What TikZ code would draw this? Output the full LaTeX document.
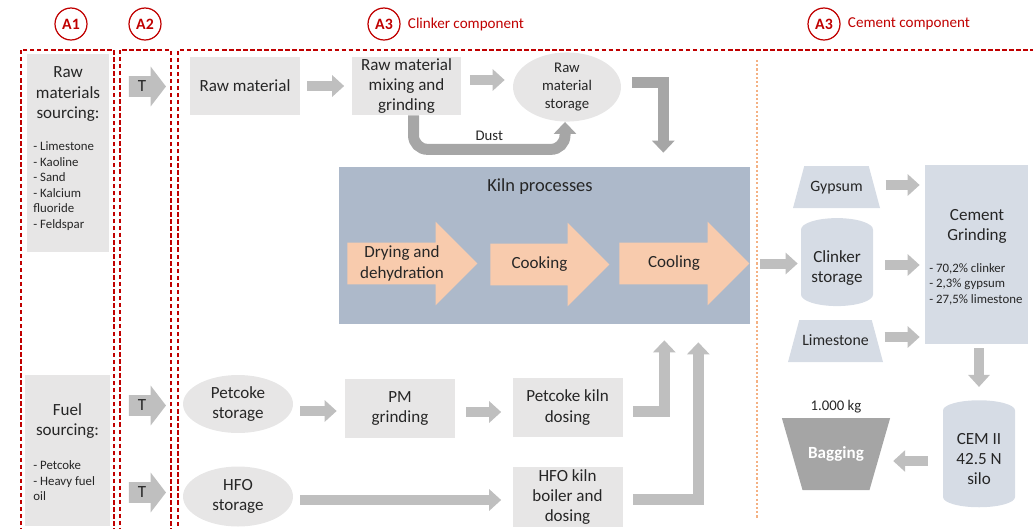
\documentclass[tikz,border=0pt]{standalone}
\usepackage{fontspec}
\setmainfont{Carlito}
\usetikzlibrary{arrows.meta,shapes.geometric,shapes.arrows,positioning,calc}
\definecolor{redA}{HTML}{C00000}
\definecolor{boxgray}{HTML}{E7E6E6}
\definecolor{arrgray}{HTML}{BFBFBF}
\definecolor{arrdark}{HTML}{A6A6A6}
\definecolor{kilnblue}{HTML}{ADB9CA}
\definecolor{peach}{HTML}{F8CBAD}
\definecolor{paleblue}{HTML}{D6DCE5}
\definecolor{baggray}{HTML}{A5A5A5}
\definecolor{dotorange}{HTML}{F4B183}
\newcommand{\fsz}[2]{\fontsize{#1}{#2}\selectfont}
\tikzset{
  every node/.style={text=black!85},
  procbox/.style={rectangle,fill=boxgray,minimum width=2.2cm,minimum height=1.16cm,inner sep=0pt,align=center,font=\fsz{9.7}{11.6}},
  store/.style={ellipse,fill=boxgray,minimum width=2.2cm,minimum height=1.16cm,inner sep=0pt,align=center,font=\fsz{9.7}{11.6}},
  pale/.style={fill=paleblue,inner sep=0pt,align=center,font=\fsz{9.7}{11.6}},
  heap/.style={pale,trapezium,trapezium left angle=75,trapezium right angle=75,inner xsep=0pt,inner ysep=0.28cm,text height=0.22cm,text depth=0.06cm,font=\fsz{9}{11}},
  tank/.style={pale,cylinder,shape border rotate=90,aspect=0.45,minimum width=1.44cm},
  tarrow/.style={single arrow,fill=arrgray,inner xsep=0pt,inner ysep=0.2cm,single arrow head extend=0.19cm,single arrow tip angle=105,minimum height=0.74cm},
  karrow/.style={single arrow,fill=peach,inner xsep=0pt,inner ysep=0.41cm,single arrow head extend=0.42cm,single arrow tip angle=90},
  circ/.style={circle,draw=redA,line width=0.7pt,minimum size=0.64cm,inner sep=0pt,text=redA,font=\fsz{9}{10}\bfseries},
  zone/.style={draw=redA,line width=0.9pt,dash pattern=on 2.5pt off 1.5pt},
  flow/.style={draw=arrgray,line width=0.2cm,-{Triangle[length=0.24cm,width=0.42cm]}},
  elbow/.style={flow,line width=0.22cm,-{Triangle[length=0.24cm,width=0.44cm]}},
  listtxt/.style={align=left,inner sep=0pt,font=\fsz{7.3}{8.8}},
  head/.style={align=center,inner sep=0pt,font=\fsz{9.7}{11.6}},
}
\begin{document}
\begin{tikzpicture}[x=0.02cm,y=-0.02cm]
\useasboundingbox (0,0) rectangle (1033,528);
% zones
\node[circ] (a1) at (71,24) {A1};
\node[circ] (a2) at (145,24) {A2};
\node[circ] (a3c) at (384,24) {A3};
\node[circ] (a3m) at (824,24) {A3};
\node[right=0.14cm of a3c,inner sep=0pt,text=redA,font=\fsz{8.6}{10}] {Clinker component};
\node[right=0.14cm of a3m,inner sep=0pt,text=redA,font=\fsz{8.6}{10}] {Cement component};
\draw[zone] (21,50) rectangle (114,540);
\draw[zone] (120,50) rectangle (171,540);
\draw[zone] (178,540) -- (178,50) -- (1040,50);
\draw[dotorange,line width=1pt,dash pattern=on 1.2pt off 1.2pt] (757,60) -- (757,518);

% sourcing
\node[procbox,minimum width=1.64cm,minimum height=3.96cm] (rawsrc) at (68,153) {};
\node[head] at (68,94) {Raw\\materials\\sourcing:};
\node[listtxt,anchor=west] at (33,186) {- Limestone\\- Kaoline\\- Sand\\- Kalcium\\fluoride\\- Feldspar};
\node[procbox,minimum width=1.7cm,minimum height=3.02cm] (fuelsrc) at (67.5,450.5) {};
\node[head] at (67.5,421) {Fuel\\sourcing:};
\node[listtxt,anchor=west] at (33,481) {- Petcoke\\- Heavy fuel\\oil};

% transport
\node[tarrow,label={[xshift=-0.03cm,head]center:T}] (t1) at (143.5,86.5) {};
\node[tarrow,label={[xshift=-0.03cm,head]center:T}] (t2) at (143.5,405.5) {};
\node[tarrow,label={[xshift=-0.03cm,head]center:T}] (t3) at (143.5,492.5) {};

% clinker line
\node[procbox] (rawmat) at (245,86) {Raw material};
\node[procbox] (mixing) at (406.5,86) {Raw material\\mixing and\\grinding};
\node[store,minimum width=2.16cm,minimum height=1.2cm,font=\fsz{8.4}{10.5}] (rawstore) at (567,87) {Raw\\material\\storage};
\node[rectangle,fill=kilnblue,minimum width=8.22cm,minimum height=3.14cm] (kiln) at (544.5,245.5) {};
\node[font=\fsz{10.5}{12}] at (540,187) {Kiln processes};
\node[karrow,minimum height=2.6cm,label={[head]center:Drying and\\dehydration}] (dry) at (402,263.5) {};
\node[karrow,minimum height=2.38cm,label={[head]center:Cooking}] (cook) at (539.5,264.5) {};
\node[karrow,minimum height=2.6cm,label={[head]center:Cooling}] (cool) at (674,263.5) {};

% fuel line
\node[store] (petstore) at (238,404) {Petcoke\\storage};
\node[store,minimum height=1.2cm] (hfostore) at (238,496.5) {HFO\\storage};
\node[procbox,minimum height=1.18cm] (pm) at (400,408.5) {PM\\grinding};
\node[procbox,minimum height=1.18cm] (petdose) at (567.5,407.5) {Petcoke kiln\\dosing};
\node[procbox,minimum height=1.2cm] (hfodose) at (567.5,497) {HFO kiln\\boiler and\\dosing};

% cement line
\node[heap,text width=1.29cm] (gypsum) at (836.5,187) {Gypsum};
\node[tank,minimum height=1.76cm] (clinker) at (837,268) {Clinker\\storage};
\node[heap,text width=1.45cm] (limestone) at (835.5,341) {Limestone};
\node[pale,rectangle,minimum width=2.06cm,minimum height=3.58cm] (grind) at (976.5,254.5) {};
\node[head] at (977,226.5) {Cement\\Grinding};
\node[listtxt,anchor=west] at (929,284) {- 70,2\% clinker\\- 2,3\% gypsum\\- 27,5\% limestone};
\node[tank,minimum height=2.14cm] (silo) at (979,459) {CEM II\\42.5 N\\silo};
\node[heap,shape border rotate=180,trapezium left angle=74,trapezium right angle=74,text width=1.34cm,inner ysep=0.58cm,fill=baggray,text=white,font=\fsz{9.7}{11.6}\bfseries] (bag) at (836,454) {Bagging};
\node[inner sep=0pt,font=\fsz{8.4}{10}] at (836,407) {1.000 kg};

% connectors
\draw[flow,shorten <=0.14cm,shorten >=0.14cm] (rawmat.east) -- (mixing.west);
\draw[flow,shorten <=0.16cm,shorten >=0.16cm] ([yshift=0.12cm]mixing.east) -- ([yshift=0.12cm]mixing.east -| rawstore.west);
\draw[elbow,draw=arrdark,shorten <=0.22cm] ([yshift=0.09cm]rawstore.east) -| ([shift={(-87,-14)}]kiln.north east);
\draw[elbow,draw=arrdark,rounded corners=0.28cm] ([xshift=0.14cm]mixing.south) -- ++(0,34)
  -| node[pos=0.25,above=0.06cm,inner sep=0pt,font=\fsz{8.4}{10}] {Dust} ([xshift=-0.04cm]rawstore.south);
\draw[flow,shorten <=0.14cm,shorten >=0.16cm] ([yshift=-0.05cm]pm.west -| petstore.east) -- ([yshift=-0.05cm]pm.west);
\draw[flow,shorten <=0.22cm,shorten >=0.22cm] ([yshift=-0.07cm]pm.east) -- ([yshift=-0.07cm]pm.east -| petdose.west);
\draw[flow,shorten <=0.14cm,shorten >=0.22cm] ([yshift=-0.07cm]hfostore.east) -- ([yshift=-0.07cm]hfostore.east -| hfodose.west);
\draw[elbow,shorten <=0.2cm] ([yshift=-0.08cm]petdose.east) -| ([shift={(-86,16)}]kiln.south east);
\draw[elbow,shorten <=0.2cm] ([yshift=-0.04cm]hfodose.east) -| ([shift={(-52,18)}]kiln.south east);
\draw[flow,shorten <=0.2cm,shorten >=0.06cm] ([yshift=-0.36cm]kiln.east) -- ([yshift=-0.36cm]kiln.east -| clinker.west);
\draw[flow,shorten <=0.22cm,shorten >=0.1cm] ([yshift=0.04cm]gypsum.east) -- ([yshift=0.04cm]gypsum.east -| grind.west);
\draw[flow,shorten <=0.24cm,shorten >=0.1cm] ([yshift=0.06cm]clinker.east) -- ([yshift=0.06cm]clinker.east -| grind.west);
\draw[flow,shorten <=0.14cm,shorten >=0.1cm] ([yshift=0.08cm]limestone.east) -- ([yshift=0.08cm]limestone.east -| grind.west);
\draw[flow,shorten <=0.08cm,shorten >=0.26cm] (silo.north |- grind.south) -- (silo.north);
\draw[flow,shorten <=0.3cm,shorten >=0.26cm] ([yshift=-0.04cm]silo.west) -- ([yshift=-0.04cm]silo.west -| bag.east);
\end{tikzpicture}
\end{document}
